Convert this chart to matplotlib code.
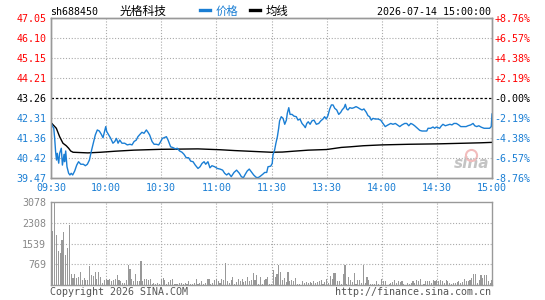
import matplotlib
matplotlib.use("Agg")
import matplotlib.pyplot as plt
from matplotlib.lines import Line2D

# ---------------- data ----------------
stock_code = "sh688450"
stock_name = "光格科技"
timestamp = "2026-07-14 15:00:00"

price_levels = [39.47, 40.42, 41.36, 42.31, 43.26, 44.21, 45.15, 46.10, 47.05]
price_labels = ["39.47", "40.42", "41.36", "42.31", "43.26", "44.21", "45.15", "46.10", "47.05"]
pct_labels = ["-8.76%", "-6.57%", "-4.38%", "-2.19%", "-0.00%", "+2.19%", "+4.38%", "+6.57%", "+8.76%"]
prev_close = 43.26

time_ticks = [0, 30, 60, 90, 120, 150, 180, 210, 240]
time_labels = ["09:30", "10:00", "10:30", "11:00", "11:30", "13:30", "14:00", "14:30", "15:00"]

vol_ticks = [769, 1539, 2308, 3078]
vol_labels = ["769", "1539", "2308", "3078"]

price_t = [0, 0.7, 1.5, 2, 2.5, 3, 3.4, 4.2, 4.7, 5.6, 6.2, 7.1, 7.4, 8, 8.7, 9.6, 10.3, 11, 11.8,
           12.9, 14, 15, 16.2, 17.6, 18.7, 19.8, 20.9, 21.9, 23, 24.1, 25.2, 26.3, 27.4, 28.3,
           29.2, 29.8, 30.3, 31.4, 32.5, 33.7, 34.7, 35.6, 36.5, 37.4, 38.6, 40.1, 41.5, 43,
           44.1, 45.2, 46.4, 47.3, 48.4, 49.5, 50.6, 51.9, 52.8, 53.7, 55, 56.1, 57.3, 58.6,
           59.7, 60.6, 61.5, 62.8, 63.7, 65.1, 66.4, 67.7, 68.7, 70, 71.3, 72.4, 73.6, 74.9,
           76, 77.3, 78.5, 80, 81.1, 82.2, 83.3, 84.2, 85.4, 86.5, 87.6, 89.1, 90.5, 92, 93.4,
           94.5, 95.6, 96.7, 98.1, 99.6, 101, 102.5, 103.6, 104.7, 105.7, 106.8, 107.9, 109,
           110.3, 111.6, 112.7, 113.9, 115.2, 116.3, 117.4, 118.1, 119.6, 120.4, 120.8, 121.7,
           122.4, 123.2, 123.9, 124.4, 125.3, 126.3, 127.2, 128.1, 128.6, 129.4, 130.1, 131.2,
           132.2, 133.5, 134.4, 135.5, 136.6, 137.7, 138.4, 139.2, 140, 141, 142, 143.1, 144.4,
           145.7, 146.8, 148, 148.9, 149.8, 150.7, 151.7, 152.6, 153.5, 154.4, 155.5, 156.6,
           157.7, 158.4, 159.5, 160.2, 160.9, 161.6, 162.6, 163.8, 164.9, 166, 167.1, 168.2,
           169.3, 170.3, 171.6, 172.5, 173.4, 174.3, 175.2, 176.5, 178, 179.4, 180.7, 181.9,
           183.4, 184.9, 186.1, 187.4, 188.5, 189.8, 191, 192.5, 193.6, 194.7, 195.8, 196.8,
           197.9, 199.4, 200.7, 201.9, 203.4, 204.5, 205.2, 206.6, 207.9, 208.8, 209.7, 210.6,
           211.5, 212.4, 213.3, 214.6, 216.1, 217.1, 218.2, 219.3, 220.6, 221.9, 223, 224.4,
           225.9, 226.9, 228.4, 229.7, 230.6, 231.7, 232.8, 234.2, 235.7, 237.1, 238.7, 239.6, 240]
price_v = [42.09, 41.94, 41.82, 41.34, 40.71, 40.31, 40.63, 40.16, 40.63, 40.87, 40.07, 40.58, 40.23,
           40.74, 39.99, 39.68, 39.60, 39.68, 39.60, 39.79, 40.07, 40.23, 40.11, 40.11, 40.04,
           40.11, 40.31, 40.71, 41.11, 41.50, 41.74, 41.69, 41.53, 41.37, 41.69, 41.90, 41.67,
           41.50, 41.34, 41.11, 41.19, 41.34, 41.11, 41.26, 41.11, 41.11, 41.03, 41.06, 41.03,
           41.19, 41.26, 41.42, 41.53, 41.63, 41.58, 41.74, 41.63, 41.50, 41.19, 41.06, 41.06,
           41.03, 41.19, 41.34, 41.37, 41.42, 41.26, 40.94, 40.90, 40.84, 40.87, 40.74, 40.68,
           40.58, 40.42, 40.42, 40.26, 40.23, 40.07, 39.91, 39.99, 40.15, 40.23, 40.11, 40.23,
           39.94, 40.04, 39.99, 39.91, 39.88, 39.83, 39.68, 39.60, 39.68, 39.52, 39.72, 39.83,
           39.68, 39.52, 39.47, 39.63, 39.79, 39.88, 39.75, 39.60, 39.49, 39.47, 39.54, 39.63,
           39.72, 39.72, 39.99, 40.02, 40.15, 40.55, 40.79, 41.11, 41.42, 41.82, 42.17, 42.37,
           42.29, 42.01, 42.21, 42.53, 42.80, 42.48, 42.48, 42.40, 42.37, 42.21, 42.26, 42.05,
           41.94, 41.85, 42.05, 42.13, 42.01, 42.17, 42.21, 42.01, 42.05, 42.17, 42.26, 42.37,
           42.26, 42.42, 42.74, 42.93, 42.93, 42.77, 42.69, 42.48, 42.58, 42.69, 42.80, 42.96,
           42.74, 42.69, 42.80, 42.77, 42.80, 42.85, 42.80, 42.74, 42.69, 42.74, 42.58, 42.42,
           42.37, 42.21, 42.29, 42.26, 42.26, 42.21, 42.05, 41.90, 41.98, 42.05, 42.01, 42.05,
           41.98, 41.90, 41.98, 42.05, 42.05, 41.94, 42.05, 42.01, 41.94, 41.82, 41.72, 41.69,
           41.69, 41.69, 41.82, 41.82, 41.88, 41.82, 41.88, 41.85, 41.82, 41.93, 42.01, 41.94,
           41.98, 42.01, 41.98, 42.05, 42.05, 41.98, 41.90, 41.90, 41.90, 41.94, 41.98, 42.05,
           41.94, 41.90, 41.94, 41.87, 41.82, 41.82, 41.82, 41.90, 42.50]

avg_t = [0, 2.9, 4.7, 6.5, 8.3, 9.6, 10.7, 12, 20, 27, 35, 45, 60, 80, 92, 100, 110, 120,
         126, 132, 140, 150, 154, 158, 163, 170, 180, 195, 211, 225, 234, 240]
avg_v = [42.09, 41.82, 41.42, 41.11, 40.99, 40.87, 40.74, 40.68, 40.65, 40.68, 40.73, 40.78,
         40.82, 40.84, 40.80, 40.76, 40.72, 40.68, 40.69, 40.73, 40.78, 40.81, 40.86, 40.91,
         40.94, 40.99, 41.03, 41.06, 41.08, 41.11, 41.13, 41.15]

volume = [330, 1990, 3078, 1840, 1250, 1200, 1650, 1960, 1100, 1380, 2210,
          430, 270, 405, 270, 300, 490, 180, 270, 180, 180, 700, 370, 345, 490, 220, 490, 290,
          100, 180, 220, 180, 220, 150, 180, 220, 370, 180, 150, 85, 100, 180, 760, 590, 220,
          150, 430, 150, 150, 885, 150, 250, 250, 180, 250, 60, 100, 60, 100, 60, 250, 280,
          180, 60, 120, 180, 220, 60, 60, 60, 100, 100, 60,
          100, 60, 150, 60, 60, 100, 220, 60, 100, 150, 60, 100, 220, 220, 60, 100, 180, 250,
          150, 100, 250, 180, 830, 150, 100, 180, 295, 60, 120, 250, 170, 250, 120, 170, 295,
          170, 200, 466, 200, 380, 60, 290, 60, 200, 220, 300, 60, 60,
          550, 300, 430, 730, 490, 180, 270, 120, 490, 150, 180, 150, 270, 60, 60, 25, 150,
          100, 120, 100, 120, 100, 150, 100, 120, 150, 180, 60, 120, 220, 100, 340, 245, 465,
          465, 150, 150, 60, 430, 760, 60, 290, 180, 120, 465, 60, 180, 180, 100, 730, 100,
          305, 180, 60, 60, 60, 150, 60, 25, 220, 150, 150, 25, 60, 100, 120, 180, 100, 150,
          120, 150, 60, 25, 100, 60, 100, 150, 100, 180, 150, 245, 25, 60, 150, 150, 150, 100,
          180, 150, 180, 150, 180, 150, 100, 180, 150, 100, 60, 100, 100, 120, 150, 100, 120,
          245, 150, 150, 180, 270, 430, 430, 100, 180, 390, 270, 390, 390, 150, 100, 200]
vol_minutes = list(range(len(volume)))

# ---------------- style ----------------
BLUE = "#1a7ed4"
RED = "#ff0000"
GRAY = "#999999"
GRID = "#aaaaaa"
MONO = ["DejaVu Sans Mono"]
CJK = ["Noto Sans CJK SC", "DejaVu Sans"]
FS = 7.2

W, H = 545, 300
fig = plt.figure(figsize=(W / 100, H / 100), dpi=100)
fig.patch.set_facecolor("white")


def box(l, t, r, b):
    return [l / W, 1 - b / H, (r - l) / W, (b - t) / H]


ax = fig.add_axes(box(51, 18.3, 492, 177.7))
axv = fig.add_axes(box(51, 201.7, 492, 285.3))

dot = (0, (1, 1.6))
for a in (ax, axv):
    a.set_xlim(0, 240)
    for s in a.spines.values():
        s.set_color(GRAY)
        s.set_linewidth(1.0)
    for t in time_ticks[1:-1]:
        a.axvline(t, color=GRID, lw=0.8, ls=dot, zorder=1)

# price panel
ax.set_ylim(price_levels[0], price_levels[-1])
for lv in price_levels[1:-1]:
    if lv == prev_close:
        ax.axhline(lv, color="black", lw=0.9, ls=(0, (2, 1.5)), zorder=2)
    else:
        ax.axhline(lv, color=GRID, lw=0.8, ls=dot, zorder=1)

ax.plot(avg_t, avg_v, color="black", lw=1.0, zorder=3)
ax.plot(price_t, price_v, color=BLUE, lw=1.0, zorder=4)

ax.set_yticks(price_levels)
ax.set_yticklabels(price_labels, fontfamily=MONO, fontsize=FS)
ax.set_xticks(time_ticks)
ax.set_xticklabels(time_labels, fontfamily=MONO, fontsize=FS, color=BLUE)
ax.tick_params(axis="y", length=0, pad=3.4)
ax.tick_params(axis="x", length=0, pad=4.0)


def lvl_color(lv):
    if lv > prev_close:
        return RED
    if lv < prev_close:
        return BLUE
    return "black"


for lab, lv in zip(ax.get_yticklabels(), price_levels):
    lab.set_color(lvl_color(lv))

axr = ax.twinx()
axr.set_ylim(price_levels[0], price_levels[-1])
axr.set_yticks(price_levels)
axr.set_yticklabels(pct_labels, fontfamily=MONO, fontsize=FS)
axr.tick_params(axis="y", length=0, pad=1.5)
for s in axr.spines.values():
    s.set_color(GRAY)
    s.set_linewidth(1.0)
for lab, lv in zip(axr.get_yticklabels(), price_levels):
    lab.set_color(lvl_color(lv))

# sina watermark
ax.text(0.993, 0.04, "sina", transform=ax.transAxes, ha="right", va="bottom",
        fontsize=11, fontweight="bold", fontstyle="italic", color="#c4c4c4",
        family="DejaVu Sans", zorder=0)
ax.plot([0.953], [0.14], marker="o", ms=8, mfc="none", mec="#f2bcbc", mew=1.5,
        transform=ax.transAxes, zorder=0)

# volume panel
axv.set_ylim(0, vol_ticks[-1])
for lv in vol_ticks[:-1]:
    axv.axhline(lv, color=GRID, lw=0.8, ls=dot, zorder=1)
axv.bar(vol_minutes, volume, width=0.6, color=GRAY, align="center", zorder=2,
        linewidth=0, antialiased=False)
axv.set_yticks(vol_ticks)
axv.set_yticklabels(vol_labels, fontfamily=MONO, fontsize=FS, color="#888888")
axv.set_xticks([])
axv.tick_params(axis="y", length=0, pad=3.4)

# header
ty = 1 - 11.7 / H
fig.text(50 / W, ty, stock_code, family=MONO, fontsize=FS, va="center", ha="left")
fig.text(120 / W, ty, stock_name, family=CJK, fontsize=8.5, va="center", ha="left")
fig.add_artist(Line2D([200 / W, 210 / W], [1 - 9.5 / H] * 2, transform=fig.transFigure,
                      color=BLUE, lw=2.4))
fig.text(216 / W, ty, "价格", family=CJK, fontsize=8.2, va="center", ha="left", color=BLUE)
fig.add_artist(Line2D([250 / W, 260 / W], [1 - 9.5 / H] * 2, transform=fig.transFigure,
                      color="black", lw=2.4))
fig.text(266 / W, ty, "均线", family=CJK, fontsize=8.2, va="center", ha="left")
fig.text(491 / W, ty, timestamp, family=MONO, fontsize=FS, va="center", ha="right")

# footer
fy = 1 - 292.3 / H
fig.text(50 / W, fy, "Copyright 2026 SINA.COM", family=MONO, fontsize=FS, va="center",
         ha="left", color="#555555")
fig.text(491 / W, fy, "http://finance.sina.com.cn", family=MONO, fontsize=FS, va="center",
         ha="right", color="#555555")

fig.savefig("out.png", dpi=100)
